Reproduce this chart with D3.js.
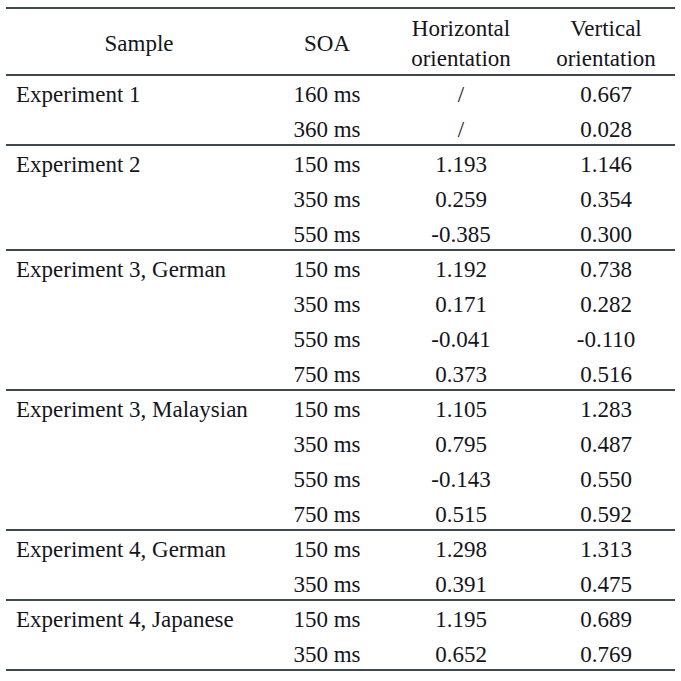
<!DOCTYPE html>
<html><head><meta charset="utf-8">
<script src="https://cdn.jsdelivr.net/npm/d3@7"></script>
<style>body{margin:0;background:#fff}svg{display:block}</style>
</head><body>
<svg id="c" width="681" height="681"></svg>
<script>
const headers = [["Sample"], ["SOA"], ["Horizontal", "orientation"], ["Vertical", "orientation"]];
const groups = ["Experiment 1", "Experiment 2", "Experiment 3, German", "Experiment 3, Malaysian", "Experiment 4, German", "Experiment 4, Japanese"];
const groupSizes = [2, 3, 4, 4, 2, 2];
const soa = ["160 ms","360 ms","150 ms","350 ms","550 ms","150 ms","350 ms","550 ms","750 ms","150 ms","350 ms","550 ms","750 ms","150 ms","350 ms","150 ms","350 ms"];
const horizontal = ["/","/","1.193","0.259","-0.385","1.192","0.171","-0.041","0.373","1.105","0.795","-0.143","0.515","1.298","0.391","1.195","0.652"];
const vertical = ["0.667","0.028","1.146","0.354","0.300","0.738","0.282","-0.110","0.516","1.283","0.487","0.550","0.592","1.313","0.475","0.689","0.769"];

const svg = d3.select("#c");
const font = "'Liberation Serif', 'DejaVu Serif', serif";
const fs = 23;
const ink = "#14141c";
const rule = "#3e4851";

const nRows = soa.length;
const y = d3.scaleLinear().domain([0, nRows]).range([75, 670]);
const colX = [null, 327, 461, 606];
const left = 16;

// rules
const groupStarts = [0];
groupSizes.forEach((s, i) => groupStarts.push(groupStarts[i] + s));
const ruleYs = [8].concat(groupStarts.map(g => y(g)));
svg.selectAll("line.rule").data(ruleYs).join("line")
  .attr("x1", 6).attr("x2", 675)
  .attr("y1", d => d).attr("y2", d => d)
  .attr("stroke", rule).attr("stroke-width", 2.2);

// headers
const hg = svg.append("g").attr("font-family", font).attr("font-size", fs).attr("fill", ink).attr("text-anchor", "middle");
const headerX = [139, 327, 461, 606];
headers.forEach((h, i) => {
  if (h.length === 1) {
    hg.append("text").attr("x", headerX[i]).attr("y", 51).text(h[0]);
  } else {
    hg.append("text").attr("x", headerX[i]).attr("y", 36).text(h[0]);
    hg.append("text").attr("x", headerX[i]).attr("y", 66).text(h[1]);
  }
});

// body
const body = svg.append("g").attr("font-family", font).attr("font-size", fs).attr("fill", ink);
body.selectAll("text.grp").data(groups).join("text")
  .attr("x", left).attr("y", (d, i) => y(groupStarts[i]) + 27).text(d => d);
const rows = d3.range(nRows);
body.selectAll("text.soa").data(rows).join("text").attr("text-anchor", "middle")
  .attr("x", colX[1]).attr("y", i => y(i) + 27).text(i => soa[i]);
body.selectAll("text.h").data(rows).join("text").attr("text-anchor", "middle")
  .attr("x", colX[2]).attr("y", i => y(i) + 27).text(i => horizontal[i]);
body.selectAll("text.v").data(rows).join("text").attr("text-anchor", "middle")
  .attr("x", colX[3]).attr("y", i => y(i) + 27).text(i => vertical[i]);
</script>
</body></html>
